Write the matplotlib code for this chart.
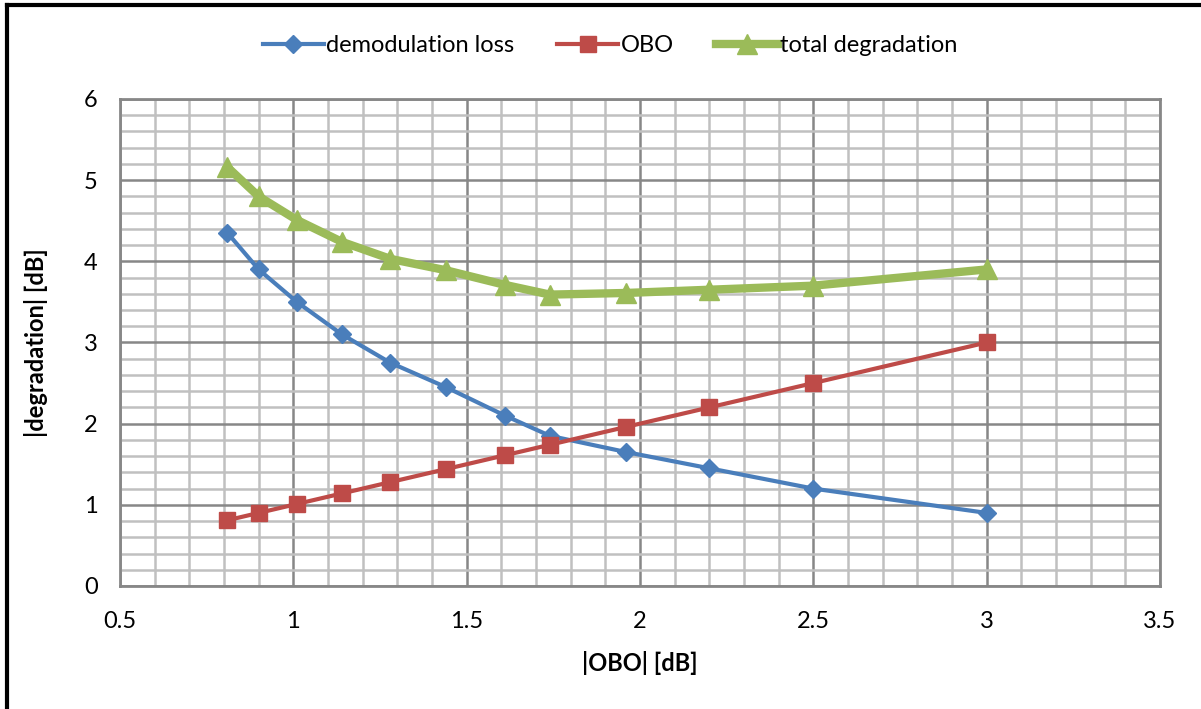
import matplotlib
matplotlib.use("Agg")
import matplotlib.pyplot as plt
from matplotlib.ticker import MultipleLocator, FuncFormatter
from matplotlib.lines import Line2D

# |OBO| values on the x axis
obo_x = [0.81, 0.90, 1.01, 1.14, 1.28, 1.44, 1.61, 1.74, 1.96, 2.20, 2.50, 3.00]
demod_loss = [4.35, 3.90, 3.50, 3.10, 2.75, 2.45, 2.10, 1.85, 1.65, 1.45, 1.20, 0.90]
obo_loss = [0.81, 0.90, 1.01, 1.14, 1.28, 1.44, 1.61, 1.74, 1.96, 2.20, 2.50, 3.00]
total_deg = [5.16, 4.80, 4.51, 4.24, 4.03, 3.89, 3.71, 3.59, 3.61, 3.65, 3.70, 3.90]

plt.rcParams['font.family'] = ['Lato', 'DejaVu Sans']

fig = plt.figure(figsize=(12.01, 7.09), dpi=100)
ax = fig.add_axes([0.0999, 0.1735, 0.866, 0.6869])

ax.plot(obo_x, demod_loss, color="#4A7EBB", lw=3, marker="D", ms=9,
        label="demodulation loss", zorder=3)
ax.plot(obo_x, obo_loss, color="#BE4B48", lw=3, marker="s", ms=11,
        label="OBO", zorder=3)
ax.plot(obo_x, total_deg, color="#9BBB59", lw=6, marker="^", ms=15,
        label="total degradation", zorder=4)

ax.set_xlim(0.5, 3.5)
ax.set_ylim(0, 6)
ax.xaxis.set_major_locator(MultipleLocator(0.5))
ax.xaxis.set_minor_locator(MultipleLocator(0.1))
ax.yaxis.set_major_locator(MultipleLocator(1))
ax.yaxis.set_minor_locator(MultipleLocator(0.2))
ax.xaxis.set_major_formatter(FuncFormatter(lambda v, p: "%g" % v))
ax.yaxis.set_major_formatter(FuncFormatter(lambda v, p: "%g" % v))

ax.grid(which="minor", color="#C0C0C0", lw=1.8, zorder=0)
ax.grid(which="major", color="#878787", lw=1.8, zorder=1)
ax.set_axisbelow(True)
for s in ax.spines.values():
    s.set_color("#878787")
    s.set_linewidth(2)

ax.tick_params(which="both", length=0, labelsize=17)
ax.yaxis.set_tick_params(pad=16)
ax.xaxis.set_tick_params(pad=18)

ax.set_xlabel("|OBO| [dB]", fontsize=17, fontweight="bold", labelpad=14)
ax.set_ylabel("|degradation| [dB]", fontsize=17, fontweight="bold", labelpad=26)

fig.legend(loc="center", bbox_to_anchor=(0.508, 0.936), ncol=3, frameon=False,
           fontsize=17, handlelength=2.6, handletextpad=0.1, columnspacing=1.8)

# outer border, top and left only
fig.add_artist(Line2D([0.006, 0.006], [0.0, 0.993], color="black", lw=3,
                      transform=fig.transFigure))
fig.add_artist(Line2D([0.006, 1.0], [0.993, 0.993], color="black", lw=3,
                      transform=fig.transFigure))

fig.savefig("out.png", dpi=100)
